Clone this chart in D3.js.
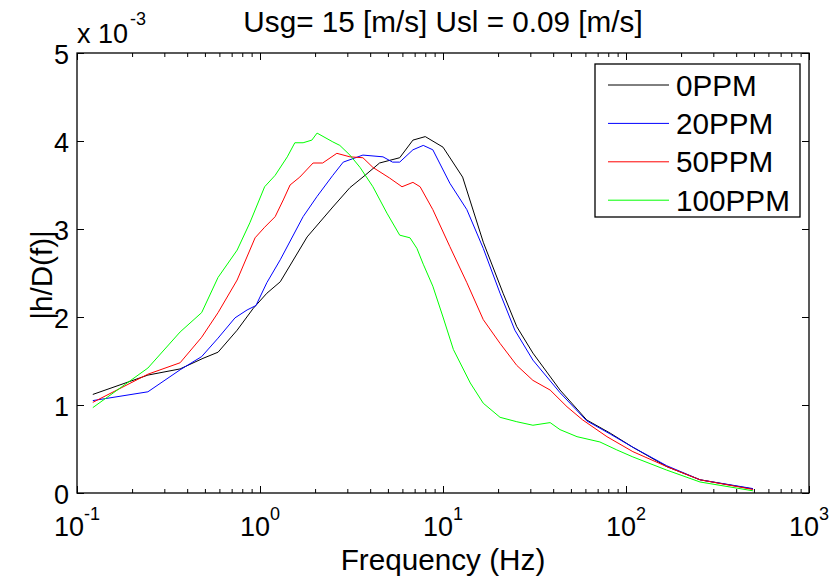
<!DOCTYPE html>
<html>
<head>
<meta charset="utf-8">
<script src="https://cdn.jsdelivr.net/npm/d3@7"></script>
<style>
  body { margin: 0; background: #fff; }
  text { font-family: Arial, "Liberation Sans", sans-serif; fill: #000; }
</style>
</head>
<body>
<div id="chart"></div>
<script>
// values (frequency in Hz, |h/D(f)| in units of 1e-3)
var f0 = [0.122, 0.244, 0.366, 0.488, 0.59, 0.75, 0.92, 1.09, 1.29, 1.81, 2.5, 3.1, 3.75, 4.5, 5.8, 6.85, 8.0, 10, 12.8, 16.6, 21.3, 25.3, 31, 43.6, 61, 82, 109, 167, 254, 494];
var h0 = [1.12, 1.34, 1.41, 1.53, 1.60, 1.85, 2.10, 2.27, 2.40, 2.91, 3.25, 3.47, 3.61, 3.75, 3.81, 4.01, 4.05, 3.93, 3.59, 2.85, 2.27, 1.89, 1.59, 1.17, 0.83, 0.68, 0.52, 0.30, 0.15, 0.045];

var f20 = [0.122, 0.244, 0.366, 0.48, 0.59, 0.73, 0.85, 0.95, 1.09, 1.29, 1.72, 2.05, 2.5, 2.85, 3.65, 4.7, 5.3, 5.8, 6.85, 7.8, 8.8, 10.9, 13.5, 16.6, 20.5, 24.7, 31, 43.6, 61, 82, 109, 167, 254, 494];
var h20 = [1.05, 1.15, 1.40, 1.55, 1.76, 1.99, 2.08, 2.13, 2.39, 2.65, 3.14, 3.37, 3.61, 3.76, 3.84, 3.82, 3.76, 3.76, 3.90, 3.95, 3.90, 3.52, 3.22, 2.78, 2.27, 1.85, 1.51, 1.14, 0.82, 0.67, 0.52, 0.31, 0.15, 0.05];

var f50 = [0.122, 0.244, 0.366, 0.48, 0.59, 0.75, 0.94, 1.06, 1.21, 1.34, 1.46, 1.65, 1.95, 2.2, 2.63, 3.1, 3.65, 4.14, 5.1, 5.97, 6.85, 7.5, 8.8, 10.9, 13.5, 16.6, 20.5, 25.3, 31, 38.5, 47.6, 58, 78.7, 109, 167, 254, 494];
var h50 = [1.03, 1.35, 1.48, 1.77, 2.05, 2.42, 2.90, 3.02, 3.14, 3.33, 3.50, 3.59, 3.75, 3.75, 3.86, 3.82, 3.81, 3.70, 3.58, 3.48, 3.53, 3.48, 3.22, 2.80, 2.39, 1.97, 1.70, 1.45, 1.28, 1.17, 0.98, 0.83, 0.64, 0.47, 0.30, 0.15, 0.04];

var f100 = [0.122, 0.244, 0.366, 0.48, 0.59, 0.75, 0.88, 1.06, 1.21, 1.41, 1.55, 1.72, 1.92, 2.05, 2.5, 2.73, 3.1, 3.52, 4.14, 4.94, 5.8, 6.6, 7.2, 7.8, 8.8, 10, 11.4, 14.1, 16.6, 20.5, 25.3, 31, 38.5, 43.6, 54, 72, 89, 109, 167, 254, 494];
var h100 = [0.97, 1.42, 1.83, 2.05, 2.45, 2.76, 3.07, 3.48, 3.61, 3.82, 3.98, 3.98, 4.01, 4.09, 3.99, 3.95, 3.84, 3.70, 3.48, 3.18, 2.93, 2.90, 2.78, 2.60, 2.35, 2.0, 1.63, 1.25, 1.02, 0.86, 0.81, 0.77, 0.80, 0.72, 0.64, 0.58, 0.49, 0.41, 0.26, 0.125, 0.025];

var seriesNames = ["0PPM", "20PPM", "50PPM", "100PPM"];
var seriesColors = ["#000000", "#0000ff", "#ff0000", "#00ff00"];
var xMajor = [0.1, 1, 10, 100, 1000];
var xExp = ["-1", "0", "1", "2", "3"];
var yTicks = [0, 1, 2, 3, 4, 5];

var series = [[f0, h0], [f20, h20], [f50, h50], [f100, h100]].map((s, i) => ({
  name: seriesNames[i],
  color: seriesColors[i],
  points: s[0].map((f, j) => [f, s[1][j]])
}));

const W = 832, H = 578;
const margin = { top: 53, right: 23, bottom: 85, left: 77 };
const pw = W - margin.left - margin.right;
const ph = H - margin.top - margin.bottom;

var svg = d3.select("#chart")
  .append("svg")
  .attr("width", W)
  .attr("height", H);

var g = svg.append("g")
  .attr("transform", `translate(${margin.left},${margin.top})`);

var x = d3.scaleLog().domain([0.1, 1000]).range([0, pw]);
var y = d3.scaleLinear().domain([0, 5]).range([ph, 0]);

// minor ticks 2..9 in each decade
var xMinor = [];
for (var d = 0.1; d < 1000; d *= 10) {
  for (var k = 2; k <= 9; k++) xMinor.push(d * k);
}

function styleAxis(sel) {
  sel.select(".domain").remove();
  sel.selectAll("line").attr("stroke", "#000");
}

// inward ticks on all four sides
g.append("g").attr("transform", `translate(0,${ph})`)
  .call(d3.axisBottom(x).tickValues(xMajor).tickSize(-7).tickSizeOuter(0).tickFormat(""))
  .call(styleAxis);
g.append("g").attr("transform", `translate(0,${ph})`)
  .call(d3.axisBottom(x).tickValues(xMinor).tickSize(-4).tickSizeOuter(0).tickFormat(""))
  .call(styleAxis);
g.append("g")
  .call(d3.axisTop(x).tickValues(xMajor).tickSize(-7).tickSizeOuter(0).tickFormat(""))
  .call(styleAxis);
g.append("g")
  .call(d3.axisTop(x).tickValues(xMinor).tickSize(-4).tickSizeOuter(0).tickFormat(""))
  .call(styleAxis);

var yAxis = g.append("g")
  .call(d3.axisLeft(y).tickValues(yTicks).tickSize(-7).tickSizeOuter(0).tickPadding(8).tickFormat(d3.format("d")))
  .call(styleAxis);
yAxis.selectAll("text")
  .attr("dy", "0.4em")
  .style("font-size", "27px")
  .style("font-family", "Arial, 'Liberation Sans', sans-serif")
  .attr("fill", "#000");

g.append("g").attr("transform", `translate(${pw},0)`)
  .call(d3.axisRight(y).tickValues(yTicks).tickSize(-7).tickSizeOuter(0).tickFormat(""))
  .call(styleAxis);

// x tick labels as powers of ten
var xl = g.append("g").selectAll("text")
  .data(xMajor)
  .enter().append("text")
  .attr("x", d => x(d))
  .attr("y", ph + 43)
  .attr("text-anchor", "middle")
  .style("font-size", "27px");
xl.append("tspan").text("10");
xl.append("tspan")
  .attr("dy", -16)
  .style("font-size", "18px")
  .text((d, i) => xExp[i]);

// data lines
var line = d3.line()
  .x(d => x(d[0]))
  .y(d => y(d[1]));

g.append("g").selectAll("path")
  .data(series)
  .enter().append("path")
  .attr("d", d => line(d.points))
  .attr("fill", "none")
  .attr("stroke", d => d.color)
  .attr("stroke-width", 1);

// frame
g.append("rect")
  .attr("width", pw)
  .attr("height", ph)
  .attr("fill", "none")
  .attr("stroke", "#000")
  .attr("stroke-width", 1.3);

// exponent multiplier
var mult = g.append("text")
  .attr("x", 0)
  .attr("y", -10)
  .style("font-size", "27px");
mult.append("tspan").text("x 10");
mult.append("tspan")
  .attr("dx", 2)
  .attr("dy", -18)
  .style("font-size", "18px")
  .text("-3");

// title and labels
svg.append("text")
  .attr("x", margin.left + pw / 2)
  .attr("y", 32)
  .attr("text-anchor", "middle")
  .style("font-size", "29.7px")
  .text("Usg= 15 [m/s] Usl = 0.09 [m/s]");

svg.append("text")
  .attr("x", margin.left + pw / 2)
  .attr("y", 570)
  .attr("text-anchor", "middle")
  .style("font-size", "29.7px")
  .text("Frequency (Hz)");

svg.append("text")
  .attr("transform", `translate(52,${margin.top + ph / 2 + 2}) rotate(-90)`)
  .attr("text-anchor", "middle")
  .style("font-size", "29.7px")
  .text("|h/D(f)|");

// legend
var lg = svg.append("g").attr("transform", "translate(595,64)");
lg.append("rect")
  .attr("width", 205)
  .attr("height", 153)
  .attr("fill", "#fff")
  .attr("stroke", "#000")
  .attr("stroke-width", 1.3);

var item = lg.selectAll(".legend")
  .data(series)
  .enter().append("g")
  .attr("class", "legend")
  .attr("transform", (d, i) => `translate(0,${21 + i * 38.4})`);

item.append("line")
  .attr("x1", 13)
  .attr("x2", 74)
  .attr("stroke", d => d.color)
  .attr("stroke-width", 1);

item.append("text")
  .attr("x", 81)
  .attr("y", 10.5)
  .style("font-size", "29.7px")
  .text(d => d.name);
</script>
</body>
</html>
